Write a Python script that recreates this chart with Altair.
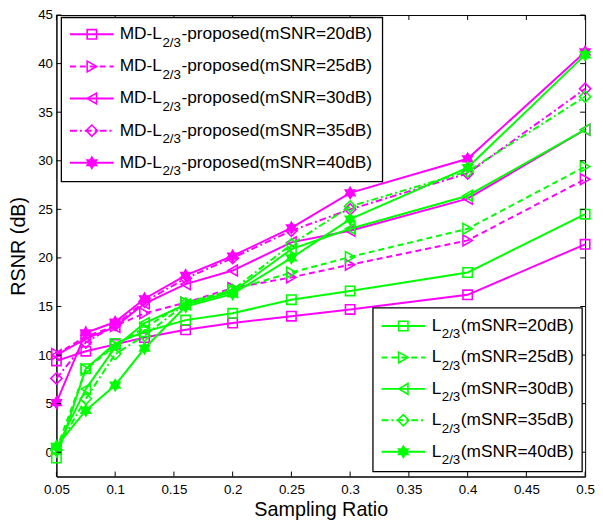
import altair as alt
import pandas as pd

# ---------------- data ----------------
x_vals = [0.05, 0.075, 0.1, 0.125, 0.16, 0.2, 0.25, 0.3, 0.4, 0.5]

md_20 = [9.4, 10.4, 11.1, 11.8, 12.6, 13.3, 14.0, 14.7, 16.2, 21.4]
md_25 = [10.1, 11.9, 13.0, 14.3, 15.4, 16.9, 18.0, 19.3, 21.8, 28.1]
md_30 = [10.0, 11.7, 12.9, 15.3, 17.3, 18.7, 21.6, 22.8, 26.1, 33.2]
md_35 = [7.6, 11.3, 13.1, 15.5, 17.9, 20.0, 22.8, 25.0, 28.7, 37.4]
md_40 = [5.1, 12.3, 13.4, 15.8, 18.2, 20.2, 23.1, 26.7, 30.2, 41.2]

l_20 = [-0.6, 8.6, 11.2, 12.4, 13.6, 14.3, 15.7, 16.6, 18.5, 24.5]
l_25 = [0.3, 8.5, 11.0, 12.8, 15.4, 16.7, 18.5, 20.1, 23.0, 29.4]
l_30 = [0.4, 6.5, 10.8, 13.3, 15.2, 16.5, 20.9, 23.0, 26.4, 33.2]
l_35 = [0.2, 5.5, 10.1, 12.0, 15.3, 16.7, 21.4, 25.3, 28.9, 36.6]
l_40 = [0.6, 4.3, 6.9, 10.7, 15.0, 16.3, 20.0, 24.0, 29.3, 40.9]

snr_labels = ["(mSNR=20dB)", "(mSNR=25dB)", "(mSNR=30dB)", "(mSNR=35dB)", "(mSNR=40dB)"]
x_ticks = [0.05, 0.1, 0.15, 0.2, 0.25, 0.3, 0.35, 0.4, 0.45, 0.5]
y_ticks = [0, 5, 10, 15, 20, 25, 30, 35, 40, 45]

# ---------------- layout / styling ----------------
PAD_L, PAD_T = 49, 4
W, H = 535, 467
X0, Y0 = 8 + PAD_L, 8 + PAD_T          # page position of the plot's top-left corner
FONT = "Liberation Sans"
MAG = "#ff00ff"
GRN = "#00ff00"
DASH = [6, 4]
DASHDOT = [7, 3, 2, 3]
STAR = ("M0,-1L0.289,-0.5L0.866,-0.5L0.577,0L0.866,0.5L0.289,0.5L0,1"
        "L-0.289,0.5L-0.866,0.5L-0.577,0L-0.866,-0.5L-0.289,-0.5Z")
styles = [  # (dash, shape, size, filled)
    (None, "square", 90, False),
    (DASH, "triangle-right", 120, False),
    (None, "triangle-left", 120, False),
    (DASHDOT, "diamond", 130, False),
    (None, STAR, 210, True),
]

xscale = alt.Scale(domain=[0.05, 0.5], nice=False, zero=False)
yscale = alt.Scale(domain=[-2.5, 45], nice=False, zero=False)

x_axis = alt.Axis(values=x_ticks, format=".2~f", title="Sampling Ratio", grid=False,
                  ticks=False, tickSize=0, labelPadding=6, titlePadding=4,
                  labelFont=FONT, labelFontSize=13.5, titleFont=FONT, titleFontSize=20,
                  titleFontWeight="normal", labelColor="black", titleColor="black",
                  domainColor="black", labelFlush=False)
y_axis = alt.Axis(values=y_ticks, format="d", title="RSNR (dB)", grid=False,
                  ticks=False, tickSize=0, labelPadding=4, titlePadding=13,
                  titleBaseline="alphabetic",
                  labelFont=FONT, labelFontSize=13.5, titleFont=FONT, titleFontSize=20,
                  titleFontWeight="normal", labelColor="black", titleColor="black",
                  domainColor="black", labelFlush=False)

one = pd.DataFrame({"a": [0]})
layers = []


def series_layers(vals, color, style, first=False):
    dash, shape, size, filled = style
    df = pd.DataFrame({"x": x_vals, "y": vals})
    base = alt.Chart(df)
    if first:
        enc_x = alt.X("x:Q", scale=xscale, axis=x_axis)
        enc_y = alt.Y("y:Q", scale=yscale, axis=y_axis)
    else:
        enc_x = alt.X("x:Q", scale=xscale)
        enc_y = alt.Y("y:Q", scale=yscale)
    lk = dict(color=color, strokeWidth=2)
    if dash:
        lk["strokeDash"] = dash
    line = base.mark_line(**lk).encode(x=enc_x, y=enc_y)
    pt = base.mark_point(shape=shape, size=size, filled=filled, color=color, opacity=1,
                         strokeWidth=1 if filled else 1.6)
    pt = pt.encode(x=alt.X("x:Q", scale=xscale), y=alt.Y("y:Q", scale=yscale))
    return [line, pt]


md_series = [md_20, md_25, md_30, md_35, md_40]
l_series = [l_20, l_25, l_30, l_35, l_40]
for i, v in enumerate(md_series):
    layers += series_layers(v, MAG, styles[i], first=(i == 0))
for i, v in enumerate(l_series):
    layers += series_layers(v, GRN, styles[i])

# inward box ticks (MATLAB style)
xt = pd.DataFrame({"x": x_ticks})
yt = pd.DataFrame({"y": y_ticks})
for y1, y2 in [(H, H - 5), (0, 5)]:
    layers.append(alt.Chart(xt).mark_rule(color="black", strokeWidth=1).encode(
        x=alt.X("x:Q", scale=xscale), y=alt.value(y1), y2=alt.value(y2)))
for x1, x2 in [(0, 5), (W, W - 5)]:
    layers.append(alt.Chart(yt).mark_rule(color="black", strokeWidth=1).encode(
        y=alt.Y("y:Q", scale=yscale), x=alt.value(x1), x2=alt.value(x2)))


# ---------------- legends (drawn as text + symbols; page coordinates) ----------------
MAIN_FS = 17.5
SUB_FS = 13.5
EM = {"M": .833, "D": .722, "-": .333, "L": .556, "2": .556, "/": .278, "3": .556}


def tw(s, fs):
    return sum(EM[c] for c in s) * fs


def legend(box, row0, dy, line_x, text_x, color, prefix, suffix):
    bx0, bx1, by0, by1 = box[0] - X0, box[1] - X0, box[2] - Y0, box[3] - Y0
    out = [alt.Chart(one).mark_rect(fill="white", stroke="black", strokeWidth=1.3).encode(
        x=alt.value(bx0), x2=alt.value(bx1), y=alt.value(by0), y2=alt.value(by1))]
    lx0, lx1 = line_x[0] - X0, line_x[1] - X0
    tx = text_x - X0
    w1 = tw(prefix, MAIN_FS)
    w2 = tw("2/3", SUB_FS)
    for i in range(5):
        dash, shape, size, filled = styles[i]
        ry = row0 + dy * i - Y0
        lk = dict(color=color, strokeWidth=2)
        if dash:
            lk["strokeDash"] = dash
        out.append(alt.Chart(one).mark_rule(**lk).encode(
            x=alt.value(lx0), x2=alt.value(lx1), y=alt.value(ry)))
        out.append(alt.Chart(one).mark_point(
            shape=shape, size=size, filled=filled, color=color, opacity=1,
            strokeWidth=1 if filled else 1.6).encode(
            x=alt.value((lx0 + lx1) / 2), y=alt.value(ry)))
        out.append(alt.Chart(one).mark_text(
            text=prefix, font=FONT, fontSize=MAIN_FS, align="left", baseline="alphabetic",
            color="black").encode(x=alt.value(tx), y=alt.value(ry + 5)))
        out.append(alt.Chart(one).mark_text(
            text="2/3", font=FONT, fontSize=SUB_FS, align="left", baseline="alphabetic",
            color="black").encode(x=alt.value(tx + w1 + 0.5), y=alt.value(ry + 12.5)))
        out.append(alt.Chart(one).mark_text(
            text=suffix + snr_labels[i], font=FONT, fontSize=MAIN_FS, align="left",
            baseline="alphabetic", color="black").encode(
            x=alt.value(tx + w1 + w2 + 1), y=alt.value(ry + 5)))
    return out


layers += legend((62, 387, 14.5, 180.5), 31.5, 32.5, (70.7, 115), 121, MAG, "MD-L", "-proposed")
layers += legend((377.3, 589, 308.3, 474), 326.7, 31.8, (386, 430), 436.7, GRN, "L", "")

chart = alt.layer(*layers).properties(
    width=W, height=H,
    autosize=alt.AutoSizeParams(type="none"),
    padding={"left": PAD_L, "top": PAD_T, "right": 10, "bottom": 50},
    background="white",
).configure_view(stroke="black", strokeWidth=1)

chart.save("out.html", embed_options={"renderer": "svg", "actions": False})
